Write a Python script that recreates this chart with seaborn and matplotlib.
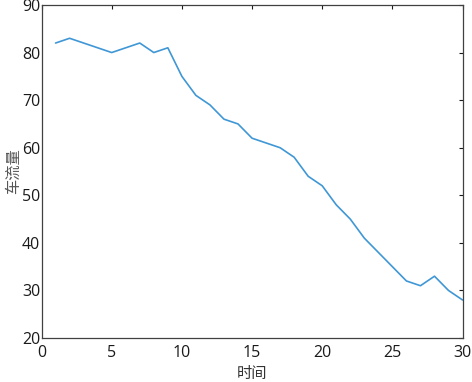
import numpy as np
import pandas as pd
import matplotlib
matplotlib.use("Agg")
import matplotlib.pyplot as plt
import seaborn as sns

# data
time = list(range(1, 31))
flow = [82, 83, 82, 81, 80, 81, 82, 80, 81, 75,
        71, 69, 66, 65, 62, 61, 60, 58, 54, 52,
        48, 45, 41, 38, 35, 32, 31, 33, 30, 28]
x_ticks = [0, 5, 10, 15, 20, 25, 30]
y_ticks = [20, 30, 40, 50, 60, 70, 80, 90]

sns.set_style("white")
plt.rcParams['font.family'] = ['Open Sans', 'Noto Sans CJK SC', 'DejaVu Sans']

df = pd.DataFrame({"time": time, "flow": flow})

fig = plt.figure(figsize=(4.72, 3.82), dpi=100)
ax = fig.add_axes([0.088, 0.115, 0.892, 0.872])
sns.lineplot(data=df, x="time", y="flow", color="#3f97d6", linewidth=1.2, ax=ax)

ax.set_xlim(0, 30)
ax.set_ylim(20, 90)
ax.set_xticks(x_ticks)
ax.set_yticks(y_ticks)
ax.tick_params(direction="in", length=3, width=0.8, colors="#1a1a1a",
               labelsize=11.5, top=True, right=True)
ax.tick_params(axis="x", pad=5)
ax.tick_params(axis="y", pad=1)
for sp in ax.spines.values():
    sp.set_color("#404040")
    sp.set_linewidth(0.9)

ax.set_xlabel("时间", family=['Noto Sans CJK SC'], fontsize=11, color="#333333", labelpad=3)
ax.set_ylabel("车流量", family=['Noto Sans CJK SC'], fontsize=11, color="#555555", labelpad=0)

fig.savefig("out.png", dpi=100)
